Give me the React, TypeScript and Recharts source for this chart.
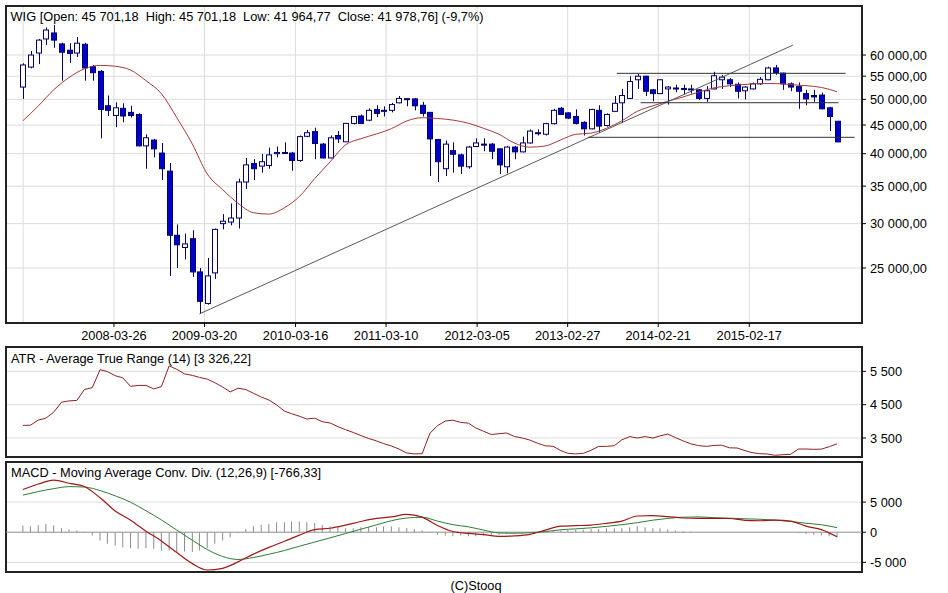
import React from 'react';
import {
  ComposedChart,
  Bar,
  Line,
  XAxis,
  YAxis,
  CartesianGrid,
  ReferenceLine,
  ReferenceArea,
} from 'recharts';

// ---------- DATA (monthly WIG candles, March 2007 .. January 2016) ----------
const START_YEAR = 2007;
const START_MONTH = 3;

const opens = [
  52600, 57100, 60500, 64100, 65700, 62800, 61200, 60500, 62700, 57200,
  56100, 48700, 46800, 48200, 47400, 47000, 41300, 42300, 40100, 37230,
  28600, 27200, 28200, 24600, 21600, 24500, 30000, 30200, 30700, 35600,
  38400, 38000, 38100, 40000, 40100, 40100, 38900, 42960, 43800, 41600,
  39300, 43100, 42000, 45300, 46700, 45900, 47980, 47600, 47800, 49300,
  50000, 50100, 48800, 47400, 42400, 37600, 40500, 39800, 37900, 41200,
  41600, 41600, 40800, 37900, 41100, 40300, 41800, 43500, 43330, 45250,
  48200, 47300, 46600, 45500, 44300, 47800, 44900, 47600, 49300, 50200,
  54200, 55000, 52000, 51200, 52200, 52300, 52300, 52100, 52000, 50200,
  52200, 54200, 54200, 53200, 51800, 52200, 53300, 54200, 56900, 55700,
  53300, 52700, 51200, 50800, 50900, 48300, 45701.18,
];
const highs = [
  58000, 61000, 64100, 67200, 67900, 63100, 63000, 64600, 63100, 57600,
  56400, 50800, 49400, 49200, 48700, 47200, 43300, 42500, 41800, 38500,
  29900, 28800, 29200, 25000, 26050, 29400, 31200, 32600, 36100, 39300,
  39100, 39950, 41000, 41200, 41900, 40300, 43100, 44100, 44500, 41800,
  43100, 43900, 45400, 46700, 47000, 48200, 48800, 48600, 49300, 50700,
  50200, 50300, 49500, 47500, 42500, 42200, 41900, 40000, 41300, 42600,
  42600, 41800, 40900, 41300, 41300, 42900, 44200, 44200, 45400, 48100,
  48500, 47400, 48000, 45700, 48100, 48800, 47200, 50700, 52200, 55000,
  55600, 55100, 52200, 54300, 52800, 53100, 53100, 53100, 52200, 52800,
  56000, 55300, 54600, 53600, 52800, 53600, 54800, 57200, 57600, 55800,
  53600, 53600, 52000, 52000, 51400, 48500, 45701.18,
];
const lows = [
  50100, 56800, 57800, 62500, 61800, 54000, 58100, 59500, 54000, 54000,
  42600, 46700, 44600, 45500, 46400, 41200, 37600, 39400, 35900, 24200,
  25000, 25900, 24100, 20700, 21500, 23900, 29300, 29800, 29400, 34600,
  35900, 37000, 37600, 39400, 39950, 37300, 38700, 42800, 39100, 39200,
  39250, 41800, 42000, 45100, 45200, 45700, 46500, 46600, 47400, 49200,
  48600, 47800, 46600, 36500, 35600, 36500, 37000, 36800, 37600, 41100,
  40400, 39100, 36800, 36900, 39100, 40200, 41700, 43100, 43100, 45100,
  46900, 46100, 45100, 43100, 44200, 43600, 44700, 47500, 45400, 50100,
  52200, 50700, 49600, 51100, 48950, 51500, 51000, 51200, 49900, 49500,
  52100, 52200, 52600, 50200, 50000, 52100, 53100, 54100, 55300, 52000,
  51700, 48100, 48800, 49500, 48000, 43900, 41964.77,
];
const closes = [
  57600, 60000, 63800, 66500, 63800, 60700, 60400, 63000, 56900, 55800,
  47980, 47800, 48300, 46700, 46800, 41300, 42700, 40800, 37600, 28600,
  27500, 27600, 24600, 21800, 24200, 29300, 30300, 30700, 35600, 38200,
  37600, 38700, 39800, 40200, 40200, 38900, 42900, 43600, 41700, 39300,
  42700, 42500, 45300, 46600, 45300, 47800, 47200, 47800, 48950, 50200,
  50150, 48700, 47200, 42500, 38700, 41600, 39900, 38000, 41100, 41800,
  41500, 40400, 38200, 41100, 40300, 41800, 43900, 43600, 45250, 47800,
  47000, 46300, 45300, 44300, 47980, 44800, 47000, 49200, 50800, 53800,
  55000, 51700, 51200, 54200, 52600, 52400, 52100, 52200, 50200, 51800,
  55100, 54800, 53300, 51700, 52600, 53300, 54300, 56900, 55800, 53300,
  52600, 51700, 50100, 50500, 48100, 46600, 41978.76,
];
// moving average, read at every second candle
const maValues = [
  45800, 48660, 52000, 54700, 56700, 57500, 57300, 56400, 54000, 51200,
  46400, 41600, 36800, 34500, 32620, 31380, 31200, 32030, 33530, 36110,
  38670, 41470, 42540, 43380, 44330, 45760, 46370, 46220, 45920, 45320,
  44380, 43310, 41780, 41080, 41290, 42340, 43310, 43530, 44400, 45780,
  47610, 48700, 49620, 50510, 51510, 52420, 52880, 53160, 53360, 53360,
  53140, 52900, 52520, 51600,
];
// ATR (14), one value per candle
const atrValues = [
  3878, 3884, 4037, 4094, 4274, 4574, 4613, 4628, 4955, 5009,
  5549, 5492, 5369, 5306, 5048, 5078, 5078, 4973, 5039, 5663,
  5561, 5423, 5378, 5318, 5267, 5159, 5030, 4883, 4994, 4955,
  4841, 4730, 4640, 4493, 4307, 4229, 4154, 4070, 4094, 3989,
  3950, 3839, 3749, 3665, 3575, 3485, 3413, 3332, 3260, 3170,
  3050, 3023, 3029, 3644, 3869, 4010, 4034, 3968, 3944, 3800,
  3701, 3605, 3629, 3650, 3545, 3500, 3437, 3341, 3266, 3251,
  3122, 3041, 3023, 3041, 3131, 3248, 3248, 3269, 3446, 3542,
  3500, 3542, 3497, 3563, 3617, 3512, 3413, 3326, 3272, 3248,
  3278, 3284, 3206, 3200, 3122, 3062, 3029, 3020, 2981, 2999,
  3011, 3170, 3170, 3161, 3167, 3239, 3326.22,
];
// MACD (12,26,9) and its signal, read at every second candle
const macdValues = [
  7095, 8000, 8630, 8120, 7590, 5710, 3530, 2000, 180, -1440,
  -3380, -5210, -6270, -5990, -4920, -3630, -2510, -1500, -480, 430,
  660, 1170, 1780, 2290, 2540, 2950, 2510, 1120, 120, -200,
  -400, -690, -610, -350, 350, 1010, 1090, 1190, 1470, 1830,
  2690, 2740, 2590, 2360, 2310, 2310, 2280, 1980, 1900, 2000,
  1830, 1010, 430, -766.33,
];
const signalValues = [
  6150, 6750, 7230, 7560, 7490, 6910, 6040, 4980, 3560, 2050,
  360, -1340, -2870, -4030, -4520, -4190, -3660, -3040, -2330, -1630,
  -940, -220, 500, 1220, 1910, 2360, 2480, 1850, 1250, 890,
  350, -120, -165, -80, 100, 410, 560, 730, 970, 1250,
  1580, 2000, 2290, 2490, 2540, 2410, 2330, 2230, 2150, 2010,
  1780, 1490, 1240, 760,
];
// MACD histogram, one value per candle
const histValues = [
  1100, 990, 1210, 1375, 1100, 660, 440, 275, -110, -550,
  -1375, -1925, -2200, -2475, -2640, -2750, -2640, -2750, -3025, -3025,
  -3300, -3190, -3300, -3025, -2640, -1925, -1375, -825, -165, 550,
  990, 1210, 1375, 1650, 1650, 1760, 1760, 1650, 1540, 1210,
  990, 825, 660, 660, 825, 825, 825, 935, 935, 825,
  715, 550, 275, -110, -440, -550, -660, -550, -660, -660,
  -550, -440, -440, -275, -220, -165, -110, -55, 55, 165,
  275, 385, 440, 440, 550, 550, 660, 660, 660, 825,
  990, 825, 660, 660, 440, 275, 165, 110, 55, 0,
  55, 55, 0, -55, 0, 0, 0, 55, 0, 0,
  -55, -165, -275, -440, -550, -660, -825,
];

// hand-drawn lines on the price panel
const trendLine = [
  { date: '2009-02-28', value: 20700 },
  { date: '2015-08-09', value: 62500 },
];
const resistanceTop = [
  { date: '2013-09-10', value: 55650 },
  { date: '2016-03-05', value: 55650 },
];
const supportMiddle = [
  { date: '2013-12-13', value: 49320 },
  { date: '2016-02-06', value: 49320 },
];
const supportBottom = [
  { date: '2013-05-18', value: 42780 },
  { date: '2016-04-10', value: 42780 },
];

// axes
const xDomainDates = ['2007-01-23', '2016-05-09'];
const xTickDates = [
  '2007-04-01', '2008-03-26', '2009-03-20', '2010-03-16', '2011-03-10',
  '2012-03-05', '2013-02-27', '2014-02-21', '2015-02-17',
];
const hiddenTickDates = ['2007-04-01'];
const priceDomain = [19940, 73400];
const priceTicks = [25000, 30000, 35000, 40000, 45000, 50000, 55000, 60000];
const atrDomain = [2930, 6230];
const atrTicks = [3500, 4500, 5500];
const macdDomain = [-6600, 11650];
const macdTicks = [-5000, 0, 5000];

const titleMain =
  'WIG [Open: 45 701,18  High: 45 701,18  Low: 41 964,77  Close: 41 978,76] (-9,7%)';
const titleAtr = 'ATR - Average True Range (14) [3 326,22]';
const titleMacd = 'MACD - Moving Average Conv. Div. (12,26,9) [-766,33]';
const footer = '(C)Stooq';

// ---------- helpers ----------
const toTime = (s: string) => {
  const [y, m, d] = s.split('-').map(Number);
  return Date.UTC(y, m - 1, d);
};
const monthEnd = (i: number) => Date.UTC(START_YEAR, START_MONTH - 1 + i + 1, 0);
const pad = (n: number) => (n < 10 ? '0' + n : '' + n);
const fmtDate = (t: number) => {
  const d = new Date(t);
  return `${d.getUTCFullYear()}-${pad(d.getUTCMonth() + 1)}-${pad(d.getUTCDate())}`;
};
const fmtNum = (v: number, dec: number) => {
  const s = Math.abs(v).toFixed(dec);
  const [intPart, frac] = s.split('.');
  const grouped = intPart.replace(/\B(?=(\d{3})+(?!\d))/g, ' ');
  return (v < 0 ? '-' : '') + grouped + (frac ? ',' + frac : '');
};

const rows = opens.map((o, i) => ({
  t: monthEnd(i),
  open: o,
  high: highs[i],
  low: lows[i],
  close: closes[i],
  range: [lows[i], highs[i]],
  ma: i % 2 === 0 ? maValues[i / 2] : null,
  atr: atrValues[i],
  macd: i % 2 === 0 ? macdValues[i / 2] : null,
  signal: i % 2 === 0 ? signalValues[i / 2] : null,
  hist: histValues[i],
}));

const xDomain = xDomainDates.map(toTime);
const xTicks = xTickDates.map(toTime);
const hiddenTicks = hiddenTickDates.map(toTime);
const seg = (arr: { date: string; value: number }[]) =>
  arr.map((p) => ({ x: toTime(p.date), y: p.value }));

const FONT = '"Liberation Sans", Arial, Helvetica, sans-serif';
const FS = 12.8;
const GRID = '#dcdcdc';
const FRAME = '#222222';
const WICK = '#000066';
const DOWN_FILL = '#0000cc';

// ---------- shapes ----------
const Candle = (props: any) => {
  const { x, y, width, height, payload } = props;
  if (x == null || y == null || !payload) return null;
  const top = Math.min(y, y + height);
  const h = Math.abs(height);
  const col = Math.round(x + width / 2);
  const cx = col + 0.5;
  const lh = Math.log(payload.high);
  const ll = Math.log(payload.low);
  const span = lh - ll;
  const py = (v: number) => (span === 0 ? top : top + ((lh - Math.log(v)) / span) * h);
  const up = payload.close >= payload.open;
  const bTop = py(Math.max(payload.open, payload.close));
  const bBot = py(Math.min(payload.open, payload.close));
  const bh = Math.max(1, bBot - bTop);
  return (
    <g>
      <line x1={cx} x2={cx} y1={top} y2={top + h} stroke={WICK} strokeWidth={1} />
      <rect
        x={col - 2.5}
        y={bTop}
        width={5}
        height={bh}
        fill={up ? '#ffffff' : DOWN_FILL}
        stroke={WICK}
        strokeWidth={1}
      />
    </g>
  );
};

const DateTick = (props: any) => {
  const { x, y, payload } = props;
  if (hiddenTicks.includes(payload.value)) return null;
  return (
    <g>
      <line x1={x} x2={x} y1={y - 8} y2={y - 4} stroke="#000" strokeWidth={1} />
      <text
        x={x}
        y={y}
        dy="0.71em"
        textAnchor="middle"
        fontSize={FS}
        fontFamily={FONT}
        fill="#000"
      >
        {fmtDate(payload.value)}
      </text>
    </g>
  );
};

const yTickStyle = { fontSize: FS, fontFamily: FONT, fill: '#000' };

const textStyle: React.CSSProperties = {
  position: 'absolute',
  fontFamily: FONT,
  fontSize: FS,
  lineHeight: '15px',
  color: '#000',
  whiteSpace: 'pre',
};

export default function App() {
  return (
    <div
      style={{
        position: 'absolute',
        left: 0,
        top: 0,
        width: 948,
        height: 593,
        background: '#ffffff',
        overflow: 'hidden',
        fontFamily: FONT,
      }}
    >
      {/* PRICE PANEL */}
      <div style={{ position: 'absolute', left: 0, top: 0 }}>
        <ComposedChart
          width={948}
          height={345}
          data={rows}
          margin={{ top: 6, right: 0, bottom: 0, left: 6 }}
        >
          <CartesianGrid stroke={GRID} strokeWidth={1} />
          <XAxis
            dataKey="t"
            type="number"
            domain={xDomain}
            ticks={xTicks}
            interval={0}
            allowDataOverflow
            height={22}
            axisLine={false}
            tickLine={false}
            tickSize={4}
            tickMargin={4}
            tick={<DateTick />}
          />
          <YAxis
            orientation="right"
            scale="log"
            domain={priceDomain}
            ticks={priceTicks}
            interval={0}
            allowDataOverflow
            width={86}
            axisLine={false}
            tickLine={{ stroke: '#000' }}
            tickSize={4}
            tickMargin={4}
            tick={yTickStyle}
            tickFormatter={(v: number) => fmtNum(v, 2)}
          />
          <Line
            dataKey="ma"
            type="monotone"
            stroke="#a83a3a"
            strokeWidth={1}
            dot={false}
            connectNulls
            isAnimationActive={false}
          />
          <ReferenceLine segment={seg(trendLine)} stroke="#5a5a5a" strokeWidth={1} ifOverflow="visible" />
          <ReferenceLine segment={seg(resistanceTop)} stroke="#333" strokeWidth={1} ifOverflow="visible" />
          <ReferenceLine segment={seg(supportMiddle)} stroke="#333" strokeWidth={1} ifOverflow="visible" />
          <ReferenceLine segment={seg(supportBottom)} stroke="#333" strokeWidth={1} ifOverflow="visible" />
          <Bar dataKey="range" barSize={6} shape={<Candle />} isAnimationActive={false} />
          <ReferenceArea
            x1={xDomain[0]}
            x2={xDomain[1]}
            y1={priceDomain[0]}
            y2={priceDomain[1]}
            fill="none"
            fillOpacity={0}
            stroke={FRAME}
            strokeWidth={2}
            ifOverflow="visible"
          />
        </ComposedChart>
      </div>

      {/* ATR PANEL */}
      <div style={{ position: 'absolute', left: 0, top: 341 }}>
        <ComposedChart
          width={948}
          height={119}
          data={rows}
          margin={{ top: 6, right: 0, bottom: 0, left: 6 }}
        >
          <CartesianGrid stroke={GRID} strokeWidth={1} />
          <XAxis
            dataKey="t"
            type="number"
            domain={xDomain}
            ticks={xTicks}
            interval={0}
            allowDataOverflow
            height={3}
            axisLine={false}
            tickLine={false}
            tick={false}
          />
          <YAxis
            orientation="right"
            domain={atrDomain}
            ticks={atrTicks}
            interval={0}
            allowDataOverflow
            width={86}
            axisLine={false}
            tickLine={{ stroke: '#000' }}
            tickSize={4}
            tickMargin={4}
            tick={yTickStyle}
            tickFormatter={(v: number) => fmtNum(v, 0)}
          />
          <Line
            dataKey="atr"
            type="linear"
            stroke="#8e2222"
            strokeWidth={1}
            dot={false}
            isAnimationActive={false}
          />
          <ReferenceArea
            x1={xDomain[0]}
            x2={xDomain[1]}
            y1={atrDomain[0]}
            y2={atrDomain[1]}
            fill="none"
            fillOpacity={0}
            stroke={FRAME}
            strokeWidth={2}
            ifOverflow="visible"
          />
        </ComposedChart>
      </div>

      {/* MACD PANEL */}
      <div style={{ position: 'absolute', left: 0, top: 455 }}>
        <ComposedChart
          width={948}
          height={120}
          data={rows}
          margin={{ top: 7, right: 0, bottom: 0, left: 6 }}
        >
          <CartesianGrid stroke={GRID} strokeWidth={1} />
          <XAxis
            dataKey="t"
            type="number"
            domain={xDomain}
            ticks={xTicks}
            interval={0}
            allowDataOverflow
            height={3}
            axisLine={false}
            tickLine={false}
            tick={false}
          />
          <YAxis
            orientation="right"
            domain={macdDomain}
            ticks={macdTicks}
            interval={0}
            allowDataOverflow
            width={86}
            axisLine={false}
            tickLine={{ stroke: '#000' }}
            tickSize={4}
            tickMargin={4}
            tick={yTickStyle}
            tickFormatter={(v: number) => fmtNum(v, 0)}
          />
          <ReferenceLine y={0} stroke="#9a9a9a" strokeWidth={1} />
          <Bar dataKey="hist" barSize={1} fill="#8c8c8c" isAnimationActive={false} />
          <Line
            dataKey="signal"
            type="monotone"
            stroke="#2e7d32"
            strokeWidth={1}
            dot={false}
            connectNulls
            isAnimationActive={false}
          />
          <Line
            dataKey="macd"
            type="monotone"
            stroke="#9e1a1a"
            strokeWidth={1.2}
            dot={false}
            connectNulls
            isAnimationActive={false}
          />
          <ReferenceArea
            x1={xDomain[0]}
            x2={xDomain[1]}
            y1={macdDomain[0]}
            y2={macdDomain[1]}
            fill="none"
            fillOpacity={0}
            stroke={FRAME}
            strokeWidth={2}
            ifOverflow="visible"
          />
        </ComposedChart>
      </div>

      <div style={{ ...textStyle, left: 10.5, top: 8.7 }}>{titleMain}</div>
      <div style={{ ...textStyle, left: 11, top: 350.7 }}>{titleAtr}</div>
      <div style={{ ...textStyle, left: 11, top: 465.4 }}>{titleMacd}</div>
      <div style={{ ...textStyle, left: 0, width: 952, textAlign: 'center', top: 578 }}>{footer}</div>
    </div>
  );
}
